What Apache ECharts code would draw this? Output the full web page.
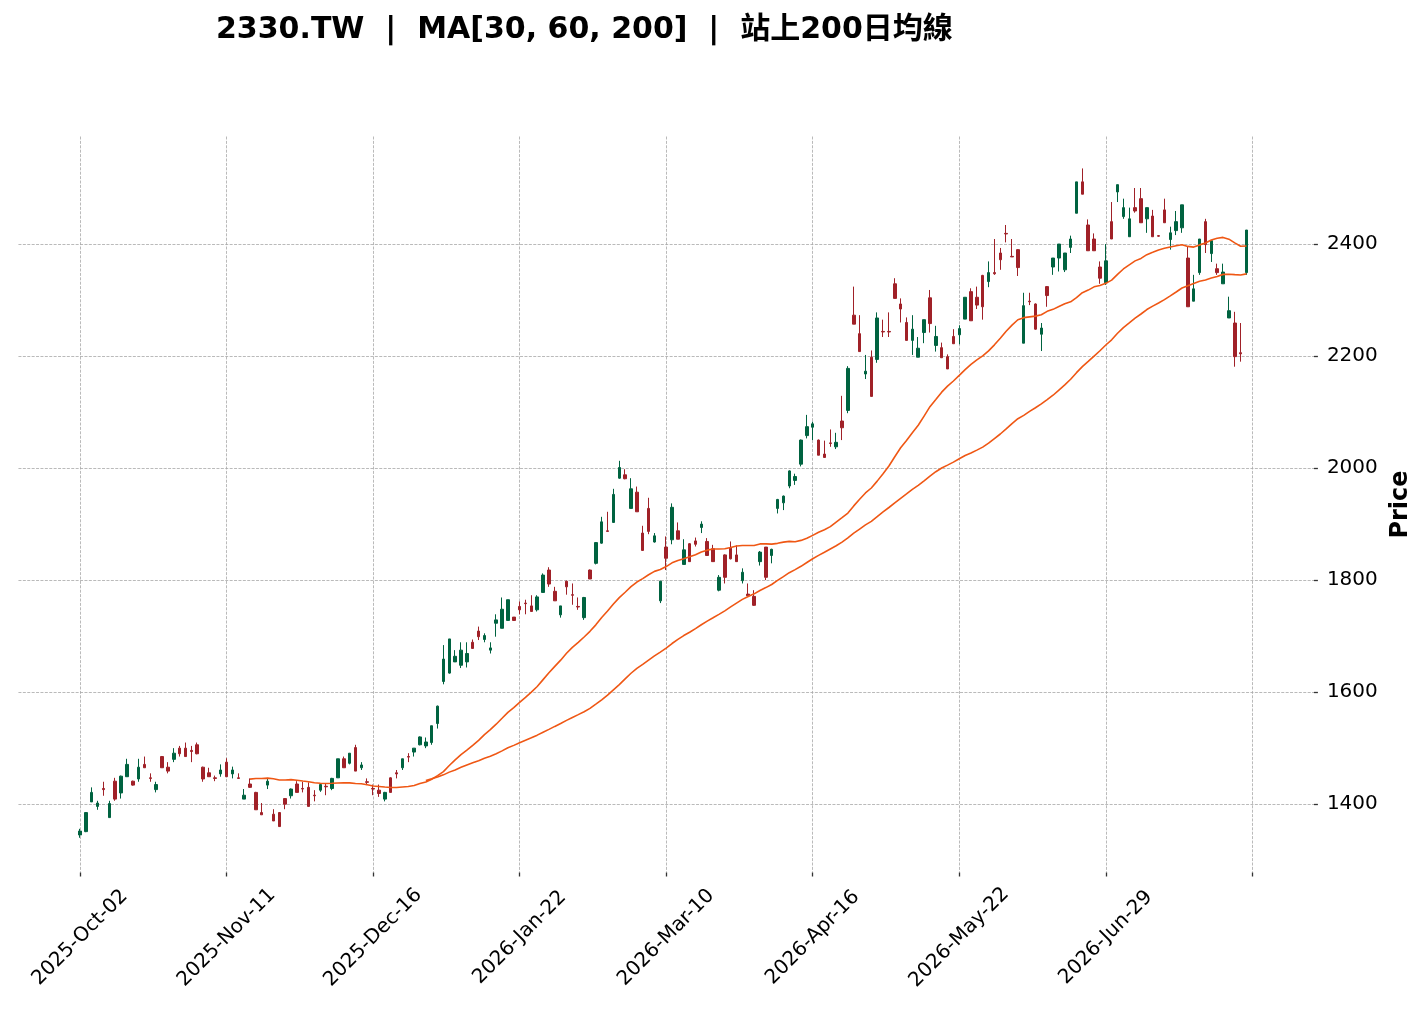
<!DOCTYPE html>
<html><head><meta charset="utf-8">
<script src="https://cdn.jsdelivr.net/npm/echarts@6/dist/echarts.min.js"></script>
<style>html,body{margin:0;padding:0;background:#fff}#c{width:1425px;height:1011px}</style>
</head><body><div id="c"></div>
<script>
// ---- data ----
const opens = [
1345,1351,1404,1396,1428,1376,1441,1420,1449,1441,1445,1471,1447,1426,1485,1466,1480,1500,1500,1496,
1506,1466,1456,1447,1454,1475,1454,1447,1409,1436,1421,1385,1434,1382,1385,1410,1415,1436,1428,1430,
1416,1425,1432,1428,1447,1481,1473,1501,1465,1440,1428,1425,1409,1447,1456,1465,1485,1493,1506,1504,
1510,1544,1619,1634,1654,1648,1654,1689,1709,1694,1675,1723,1714,1728,1734,1753,1759,1754,1747,1778,
1818,1780,1738,1798,1774,1753,1733,1818,1830,1866,1888,1903,1982,1988,1928,1957,1884,1928,1868,1763,
1859,1872,1888,1828,1865,1870,1894,1869,1856,1782,1845,1857,1845,1799,1775,1771,1833,1859,1844,1928,
1938,1968,1978,2007,2058,2073,2050,2025,2045,2038,2084,2103,2273,2240,2168,2198,2194,2244,2244,2329,
2293,2260,2228,2198,2242,2304,2219,2215,2199,2235,2238,2266,2315,2305,2344,2333,2349,2384,2419,2378,
2390,2223,2298,2293,2239,2324,2359,2375,2354,2394,2455,2511,2434,2409,2359,2331,2440,2493,2449,2413,
2465,2481,2445,2450,2415,2461,2408,2424,2429,2375,2298,2349,2440,2383,2356,2329,2268,2259,2206,2349];
const highs = [
1356,1386,1430,1406,1440,1406,1447,1451,1481,1442,1481,1485,1455,1440,1486,1475,1500,1504,1510,1504,
1510,1467,1465,1451,1471,1482,1467,1455,1427,1446,1422,1402,1446,1391,1386,1411,1428,1441,1440,1439,
1425,1436,1437,1447,1481,1485,1491,1506,1475,1446,1435,1435,1422,1448,1461,1481,1491,1500,1521,1519,
1540,1576,1684,1695,1675,1689,1689,1694,1717,1705,1689,1739,1769,1765,1734,1762,1765,1773,1773,1812,
1823,1788,1754,1799,1794,1769,1770,1819,1868,1913,1922,1963,2013,1998,1982,1967,1897,1947,1884,1799,
1878,1937,1903,1873,1866,1876,1905,1875,1863,1809,1846,1869,1862,1821,1794,1782,1852,1859,1856,1945,
1951,1996,1990,2051,2095,2083,2051,2049,2069,2063,2129,2182,2324,2273,2202,2210,2278,2265,2278,2339,
2303,2269,2273,2234,2265,2318,2254,2224,2203,2248,2255,2305,2321,2324,2345,2369,2409,2393,2434,2409,
2391,2313,2313,2294,2259,2325,2375,2400,2384,2415,2511,2535,2444,2419,2369,2400,2475,2506,2481,2465,
2500,2500,2465,2461,2416,2481,2431,2459,2470,2395,2345,2409,2445,2406,2365,2365,2306,2279,2259,2425];
const lows = [
1340,1350,1404,1390,1415,1376,1406,1410,1449,1433,1440,1465,1440,1421,1465,1455,1475,1485,1485,1475,
1489,1440,1449,1441,1449,1449,1446,1445,1409,1429,1390,1381,1427,1370,1360,1391,1410,1421,1421,1396,
1405,1422,1416,1425,1447,1465,1471,1459,1461,1434,1416,1413,1405,1421,1446,1461,1475,1485,1505,1500,
1506,1535,1614,1633,1654,1643,1644,1678,1693,1689,1669,1699,1714,1728,1727,1739,1739,1744,1744,1778,
1788,1763,1733,1774,1756,1747,1729,1802,1828,1865,1887,1902,1981,1980,1928,1922,1852,1882,1867,1759,
1818,1864,1873,1828,1833,1860,1884,1843,1833,1780,1794,1837,1833,1794,1772,1754,1826,1800,1830,1919,
1925,1964,1970,2003,2053,2050,2023,2019,2038,2034,2050,2098,2257,2208,2159,2128,2188,2234,2234,2303,
2260,2228,2202,2198,2223,2242,2208,2197,2177,2222,2221,2266,2263,2284,2265,2323,2345,2354,2403,2377,
2343,2223,2291,2247,2209,2288,2345,2351,2350,2384,2455,2489,2388,2388,2329,2327,2409,2475,2445,2413,
2456,2438,2420,2413,2413,2438,2390,2416,2420,2288,2298,2345,2384,2368,2345,2329,2268,2181,2190,2345];
const closes = [
1352,1385,1421,1402,1426,1401,1409,1450,1471,1434,1466,1465,1446,1435,1465,1459,1491,1490,1485,1494,
1490,1445,1449,1446,1461,1449,1461,1446,1416,1430,1390,1381,1441,1370,1360,1400,1427,1421,1427,1396,
1415,1435,1431,1446,1481,1465,1491,1459,1470,1439,1427,1419,1421,1421,1454,1481,1484,1500,1520,1511,
1540,1575,1659,1695,1664,1675,1669,1678,1699,1701,1679,1729,1748,1765,1728,1747,1758,1744,1770,1809,
1793,1763,1754,1788,1773,1752,1769,1802,1867,1904,1887,1953,2001,1981,1963,1922,1853,1887,1879,1798,
1839,1930,1873,1854,1833,1864,1900,1844,1833,1805,1805,1838,1833,1814,1772,1755,1850,1805,1855,1944,
1950,1995,1985,2050,2074,2079,2023,2019,2044,2046,2072,2178,2257,2208,2173,2128,2268,2243,2243,2303,
2284,2228,2248,2214,2265,2258,2235,2197,2177,2222,2249,2305,2263,2291,2288,2349,2347,2372,2418,2377,
2358,2290,2297,2248,2250,2308,2375,2400,2384,2409,2511,2489,2388,2388,2339,2370,2409,2506,2465,2445,
2459,2438,2465,2413,2414,2438,2420,2440,2470,2288,2320,2409,2399,2406,2349,2350,2281,2199,2204,2425];
const maWindows = [30, 60, 200];
const tickIdx = [0, 25, 50, 75, 100, 125, 150, 175, 200];
const tickLabels = ['2025-Oct-02','2025-Nov-11','2025-Dec-16','2026-Jan-22','2026-Mar-10','2026-Apr-16','2026-May-22','2026-Jun-29',''];
const priceTicks = [1400, 1600, 1800, 2000, 2200, 2400];

// ---- layout helpers ----
const PAD_L = 10, PAD_R = 11;
const N = closes.length;
const cats = [];
for (let i = -PAD_L; i < N + PAD_R; i++) cats.push(String(i));
const isTick = (v) => tickIdx.indexOf(Number(v)) >= 0;
const tickFn = (idx, v) => isTick(v);

function movingAverage(arr, n) {
  const out = [];
  let s = 0;
  for (let i = 0; i < arr.length; i++) {
    s += arr[i];
    if (i >= n) s -= arr[i - n];
    if (i >= n - 1) out.push([i + PAD_L, +(s / n).toFixed(2)]);
  }
  return out;
}
const candleData = closes.map((c, i) => [i + PAD_L, opens[i], c, lows[i], highs[i]]);

const gridLine = { color: '#a8a8a8', width: 0.8, type: [3, 1.4] };
const FONT = 'DejaVu Sans';

const chart = echarts.init(document.getElementById('c'), null, { renderer: 'canvas' });
chart.setOption({
  animation: false,
  backgroundColor: '#ffffff',
  title: {
    text: '2330.TW  |  MA[30, 60, 200]  |  站上200日均線',
    left: 211, top: 10,
    textStyle: { fontFamily: "'DejaVu Sans','Noto Sans CJK TC'", fontSize: 30, fontWeight: 'bold', color: '#000' }
  },
  grid: { left: 18.45, right: 111.1, top: 136.5, bottom: 138.5, containLabel: false },
  xAxis: {
    type: 'category', data: cats, boundaryGap: true,
    axisLine: { show: false },
    axisTick: { show: true, alignWithLabel: true, interval: tickFn, length: 4, lineStyle: { color: '#333', width: 1.3 } },
    axisLabel: {
      interval: tickFn, rotate: 45, align: 'center', verticalAlign: 'middle', margin: 65,
      fontFamily: FONT, fontSize: 20, color: '#000',
      formatter: (v) => { const k = tickIdx.indexOf(Number(v)); return k >= 0 ? tickLabels[k] : ''; }
    },
    splitLine: { show: true, interval: tickFn, alignWithLabel: true, lineStyle: gridLine }
  },
  yAxis: {
    type: 'value', position: 'right', min: 1278, max: 2592, scale: true,
    axisLine: { show: false },
    axisTick: { show: true, customValues: priceTicks, length: 4, lineStyle: { color: '#333', width: 1.3 } },
    axisLabel: { customValues: priceTicks, margin: 13, fontFamily: FONT, fontSize: 20, color: '#000',
      formatter: (v) => String(v) },
    splitLine: { show: true, lineStyle: gridLine },
    name: 'Price', nameLocation: 'middle', nameRotate: 90, nameGap: 61,
    nameTextStyle: { fontFamily: FONT, fontSize: 24, fontWeight: 'bold', color: '#000' }
  },
  series: [
    {
      type: 'candlestick', data: candleData, encode: { x: 0, y: [1, 2, 3, 4] },
      barWidth: 3,
      itemStyle: { color: '#006340', color0: '#a02128', borderColor: '#006340', borderColor0: '#a02128', borderWidth: 1 }
    },
  ].concat(maWindows.map((w) => ({
    type: 'line', name: 'MA' + w, data: movingAverage(closes, w), symbol: 'none', showSymbol: false,
    lineStyle: { color: '#ef5714', width: 1.6 }, z: 3
  })))
});
</script></body></html>
